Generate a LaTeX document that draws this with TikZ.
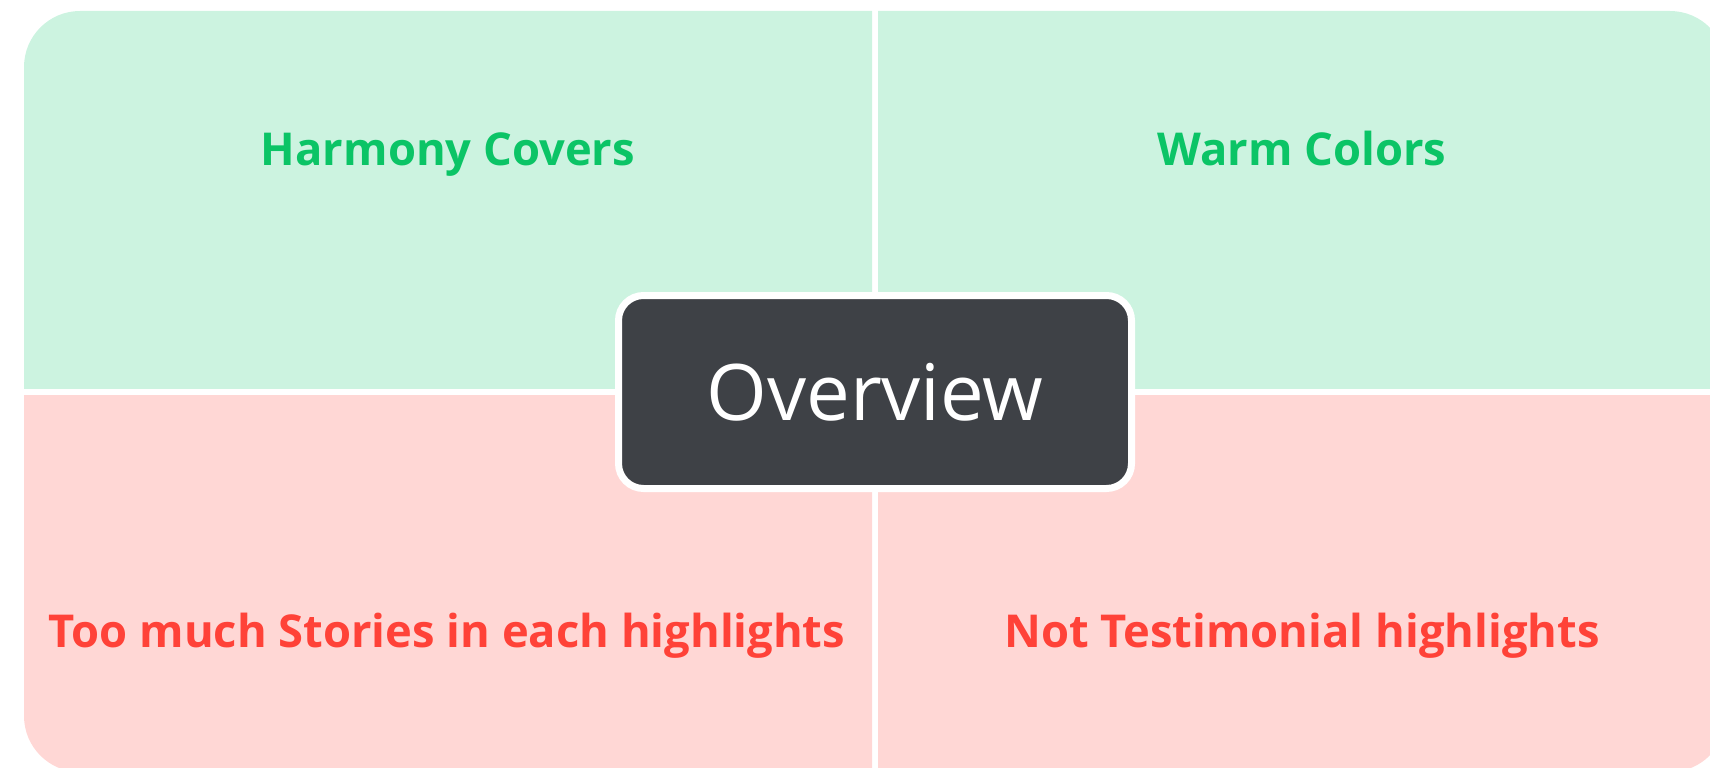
\documentclass[tikz,border=0pt]{standalone}
\usepackage{fontspec}
\setmainfont{Open Sans}
\usepackage{tikz}

\definecolor{mint}{HTML}{CCF3E0}
\definecolor{leaf}{HTML}{0BC466}
\definecolor{blush}{HTML}{FFD7D5}
\definecolor{coral}{HTML}{FF4238}
\definecolor{slate}{HTML}{3E4146}

\tikzset{
  pro/.style={anchor=base, text=leaf, font=\fontsize{45.3}{52}\selectfont\bfseries},
  con/.style={anchor=base, text=coral, font=\fontsize{45.3}{52}\selectfont\bfseries},
  hub/.style={draw=white, line width=7pt, fill=slate, rounded corners=25pt,
    minimum width=513pt, minimum height=193pt, inner sep=0pt,
    text=white, font=\fontsize{78}{84}\selectfont}
}

\begin{document}
\begin{tikzpicture}[x=1pt, y=-1pt]
  \useasboundingbox (0,0) rectangle (1710,768);
  \clip (0,0) rectangle (1710,768);

  % Quadrants: one big rounded card cut into four
  \foreach \xa/\xb/\ya/\yb/\col in {24/872/11/388/mint, 878/1726/11/388/mint,
                                    24/872/395/772/blush, 878/1726/395/772/blush} {
    \begin{scope}
      \clip (\xa,\ya) rectangle (\xb,\yb);
      \fill[\col, rounded corners=56pt] (24,11) rectangle (1726,772);
    \end{scope}
  }

  % Labels
  \node[pro] (harmony) at (448,165) {Harmony Covers};
  \node[pro] (warm) at (1302,165) {Warm Colors};
  \node[con] (stories) at (447,647) {Too much Stories in each highlights};
  \node[con] (testimonial) at (1302,647) {Not Testimonial highlights};

  % Centre
  \node[hub] (overview) at (875,392) {Overview};

\end{tikzpicture}
\end{document}
